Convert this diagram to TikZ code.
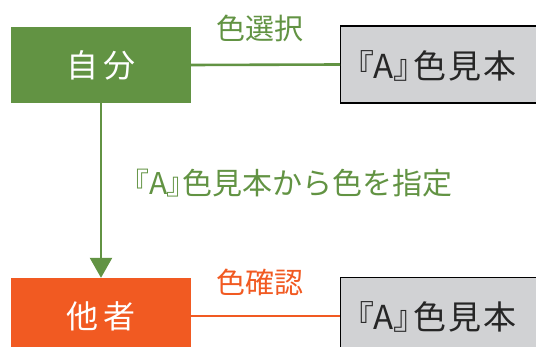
\documentclass[tikz,border=0pt]{standalone}
\usepackage{fontspec}
\newfontfamily\jp{Noto Sans CJK JP}
\newfontfamily\jpp[RawFeature=+palt]{Noto Sans CJK JP}
\usetikzlibrary{arrows.meta}
\definecolor{mygreen}{HTML}{629343}
\definecolor{myorange}{HTML}{F15A22}
\definecolor{mygray}{HTML}{D1D2D4}
\tikzset{
  actor/.style={minimum width=180pt, minimum height=76pt, inner sep=0pt, text=white, font=\jp\fontsize{32}{36}\selectfont},
  sample/.style={draw=black, line width=1.2pt, fill=mygray, minimum width=200pt, minimum height=77pt, inner sep=0pt, anchor=west},
  sampletext/.style={anchor=west, font=\jp\fontsize{33}{36}\selectfont, text=black!85, inner sep=0pt},
  lbl/.style={font=\jp\fontsize{29}{32}\selectfont, inner sep=0pt},
  conn/.style={line width=2.6pt}
}
\begin{document}
\begin{tikzpicture}[x=1pt,y=-1pt]
\useasboundingbox (0,0) rectangle (536,347);
\clip (0,0) rectangle (536,347);
\node[actor, fill=mygreen] (self) at (101,65) {自\hspace{6pt}分};
\node[actor, fill=myorange] (other) at (101,316) {他\hspace{6pt}者};
\node[sample] (s1) at (340,64.5) {};
\node[sample] (s2) at (340,316) {};
\node[sampletext] (t1) at (357,66) {{\jpp 『A』}\hspace{3pt}色\hspace{2pt}見\hspace{2pt}本};
\node[sampletext] (t2) at (357,317) {{\jpp 『A』}\hspace{3pt}色\hspace{2pt}見\hspace{2pt}本};
\draw[conn, mygreen] (self.east) -- (s1.west);
\draw[conn, myorange] (other.east) -- (s2.west);
\draw[conn, mygreen, -{Triangle[width=22pt,length=20pt]}] (self.south) -- (other.north);
\node[lbl, text=mygreen] (l1) at (260,28) {色選択};
\node[lbl, text=myorange] (l2) at (260,282) {色確認};
\node[lbl, text=mygreen, anchor=west, font=\jp\fontsize{30}{32}\selectfont] (l3) at (134,183) {{\jpp 『A』}色見本から色を指定};
\end{tikzpicture}
\end{document}
